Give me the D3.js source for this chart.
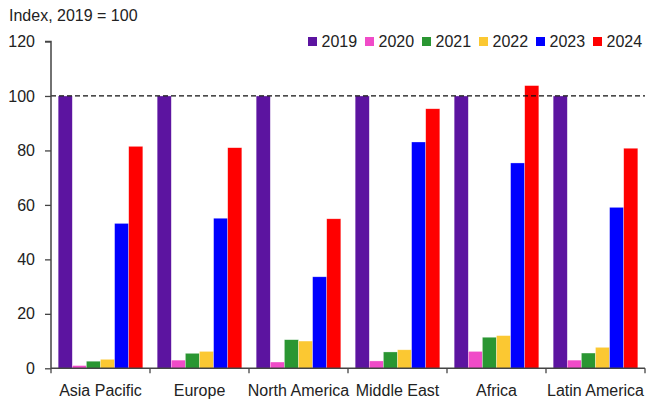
<!DOCTYPE html>
<html>
<head>
<meta charset="utf-8">
<script src="https://cdn.jsdelivr.net/npm/d3@7/dist/d3.min.js"></script>
<style>
  html, body { margin: 0; padding: 0; background: #fff; }
  svg { display: block; font-family: "Liberation Sans", Arial, sans-serif; }
</style>
</head>
<body>
<svg id="chart" width="656" height="401"></svg>
<script>
const categories = ["Asia Pacific", "Europe", "North America", "Middle East", "Africa", "Latin America"];
const years = ["2019", "2020", "2021", "2022", "2023", "2024"];
const colors = ["#5c14a0", "#f04bc8", "#2a9632", "#fbc832", "#0000ff", "#ff0000"];
const v2019 = [100, 100, 100, 100, 100, 100];
const v2020 = [1.0, 3.0, 2.3, 2.7, 6.2, 3.0];
const v2021 = [2.6, 5.5, 10.5, 6.0, 11.4, 5.6];
const v2022 = [3.3, 6.2, 10.0, 6.8, 12.0, 7.7];
const v2023 = [53.2, 55.1, 33.6, 83.1, 75.4, 59.1];
const v2024 = [81.5, 81.0, 54.9, 95.3, 103.8, 80.8];
const yTicks = [0, 20, 40, 60, 80, 100, 120];
const refLine = 100;
const titleText = "Index, 2019 = 100";

const series = [v2019, v2020, v2021, v2022, v2023, v2024];

const svg = d3.select("#chart");
const mLeft = 51, mRight = 645, mTop = 41.5, mBottom = 368.3;

const x0 = d3.scaleBand().domain(categories).range([mLeft, mRight]).paddingInner(0.145).paddingOuter(0.0725);
const x1 = d3.scaleBand().domain(years).range([0, x0.bandwidth()]);
const y = d3.scaleLinear().domain([0, 120]).range([mBottom, mTop]);
const color = d3.scaleOrdinal().domain(years).range(colors);

// bars
const groups = svg.append("g").selectAll("g")
  .data(categories)
  .join("g")
  .attr("transform", d => `translate(${x0(d)},0)`);

groups.selectAll("rect")
  .data((c, i) => years.map((yr, j) => ({ yr, v: series[j][i] })))
  .join("rect")
  .attr("x", d => x1(d.yr))
  .attr("width", x1.bandwidth())
  .attr("y", d => y(d.v))
  .attr("height", d => y(0) - y(d.v))
  .attr("fill", d => color(d.yr))
  .attr("stroke", "#fff")
  .attr("stroke-opacity", 0.5)
  .attr("stroke-width", 0.6);

// reference dashed line
svg.append("line")
  .attr("x1", mLeft).attr("x2", mRight)
  .attr("y1", y(refLine)).attr("y2", y(refLine))
  .attr("stroke", "#111").attr("stroke-width", 1.2)
  .attr("stroke-dasharray", "5,3");

// y axis
const yAxis = svg.append("g")
  .attr("transform", `translate(${mLeft},0)`)
  .call(d3.axisLeft(y).tickValues(yTicks).tickSize(6).tickPadding(10).tickFormat(d3.format("d")));
yAxis.select(".domain").attr("stroke", "#444").attr("stroke-width", 1.5).attr("d", `M-6,${y(120)}H0V${y(0)}`);
yAxis.selectAll(".tick line").attr("stroke", "#444").attr("stroke-width", 1.3);
yAxis.selectAll(".tick text").attr("font-size", 16).attr("fill", "#222").attr("font-family", "Liberation Sans, Arial, sans-serif");

// x axis
const xEdges = d3.scaleLinear().domain([0, categories.length]).range([mLeft, mRight]);
const xAxis = svg.append("g").attr("transform", `translate(0,${mBottom})`);
xAxis.append("line").attr("x1", mLeft).attr("x2", mRight).attr("y1", 0).attr("y2", 0)
  .attr("stroke", "#444").attr("stroke-width", 1.5);
xAxis.selectAll("line.tk")
  .data(d3.range(categories.length + 1))
  .join("line").attr("class", "tk")
  .attr("x1", d => xEdges(d)).attr("x2", d => xEdges(d))
  .attr("y1", 0).attr("y2", 5)
  .attr("stroke", "#444").attr("stroke-width", 1.3);
xAxis.selectAll("text")
  .data(categories)
  .join("text")
  .attr("x", d => x0(d) + x0.bandwidth() / 2)
  .attr("y", 28)
  .attr("text-anchor", "middle")
  .attr("font-size", 16)
  .attr("fill", "#222")
  .text(d => d);

// title
svg.append("text").attr("x", 9).attr("y", 21).attr("font-size", 16).attr("fill", "#222").text(titleText);

// legend
const legend = svg.append("g").selectAll("g")
  .data(years)
  .join("g")
  .attr("transform", (d, i) => `translate(${308 + i * 57},0)`);
legend.append("rect").attr("x", 0).attr("y", 37).attr("width", 9).attr("height", 9).attr("fill", d => color(d));
legend.append("text").attr("x", 13.5).attr("y", 47).attr("font-size", 16).attr("fill", "#222").text(d => d);
</script>
</body>
</html>
